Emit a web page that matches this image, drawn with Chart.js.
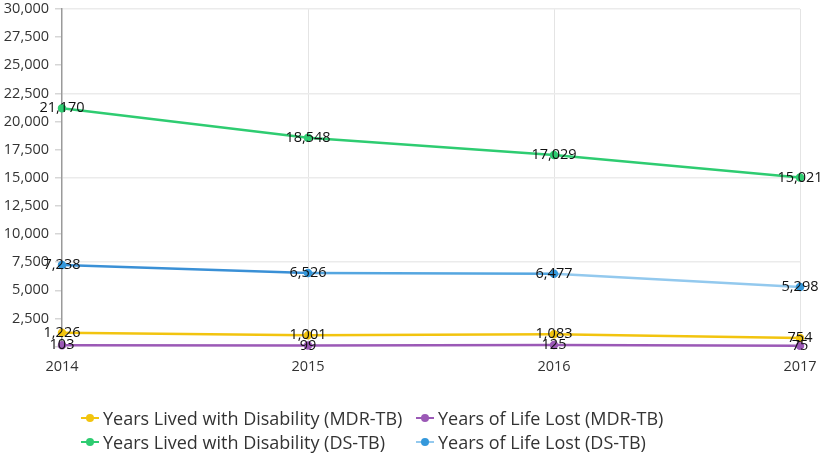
<!DOCTYPE html>
<html>
<head>
<meta charset="utf-8">
<script src="https://cdn.jsdelivr.net/npm/chart.js@4.4.1/dist/chart.umd.min.js"></script>
<style>
  html, body { margin: 0; padding: 0; background: #fff; }
  #wrap { position: relative; width: 829px; height: 457px; }
  #wrap canvas { position: absolute; left: 0; top: 0; }
  #legend {
    position: absolute; left: 81px; top: 406px;
    display: grid; grid-template-columns: 335px auto;
    font-family: "Open Sans", sans-serif; font-size: 18px; color: #333; line-height: 24px;
  }
  .item { display: flex; align-items: center; white-space: nowrap; }
  .mk { position: relative; width: 18px; height: 24px; margin-right: 4px; flex: none; }
  .mk .ln { position: absolute; left: 0; right: 0; top: 11px; height: 2px; }
  .mk .dt { position: absolute; left: 5px; top: 8px; width: 8px; height: 8px; border-radius: 50%; }
</style>
</head>
<body>
<div id="wrap">
  <canvas id="c" width="829" height="457"></canvas>
  <div id="legend"></div>
</div>
<script>
// data
const years = ["2014", "2015", "2016", "2017"];
const yldMdr = [1226, 1001, 1083, 754];
const yllMdr = [103, 99, 125, 75];
const yldDs = [21170, 18548, 17029, 15021];
const yllDs = [7238, 6526, 6477, 5298];
const seriesNames = [
  "Years Lived with Disability (MDR-TB)",
  "Years of Life Lost (MDR-TB)",
  "Years Lived with Disability (DS-TB)",
  "Years of Life Lost (DS-TB)"
];

const COLORS = {
  yellow: "#f2c40f",
  purple: "#9b59b6",
  green: "#2ecc71",
  blue: "#3498db",
  blueLight: "#93c9ee"
};
const BLUE_SEGMENTS = ["#3a90d6", "#55a6e0", COLORS.blueLight];
const FONT = "'Open Sans', sans-serif";

function fmt(v) {
  return v.toLocaleString("en-US");
}

function lineSet(label, data, color, extra) {
  return Object.assign({
    label,
    data,
    borderColor: color,
    backgroundColor: color,
    pointBackgroundColor: color,
    pointBorderColor: color,
    borderWidth: 2.5,
    pointRadius: 3,
    tension: 0,
    clip: false,
    fill: false
  }, extra || {});
}

// numbers printed on each point
const pointLabels = {
  id: "pointLabels",
  afterDatasetsDraw(chart) {
    const ctx = chart.ctx;
    ctx.save();
    ctx.font = `14.5px ${FONT}`;
    ctx.fillStyle = "#111";
    ctx.textAlign = "center";
    ctx.textBaseline = "middle";
    chart.data.datasets.forEach((ds, i) => {
      chart.getDatasetMeta(i).data.forEach((pt, j) => {
        ctx.fillText(fmt(ds.data[j]), pt.x, pt.y);
      });
    });
    ctx.restore();
  }
};

const chart = new Chart(document.getElementById("c"), {
  type: "line",
  data: {
    labels: years,
    datasets: [
      lineSet(seriesNames[0], yldMdr, COLORS.yellow),
      lineSet(seriesNames[1], yllMdr, COLORS.purple),
      lineSet(seriesNames[2], yldDs, COLORS.green),
      lineSet(seriesNames[3], yllDs, COLORS.blue, {
        segment: { borderColor: (c) => BLUE_SEGMENTS[c.p0DataIndex] }
      })
    ]
  },
  options: {
    responsive: false,
    animation: false,
    layout: { padding: { left: 0, right: 29, top: 0, bottom: 80.5 } },
    plugins: {
      legend: { display: false },
      tooltip: { enabled: false }
    },
    scales: {
      x: {
        offset: false,
        border: { display: false },
        grid: {
          drawTicks: false,
          color: (c) => (c.index === 0 ? "rgba(0,0,0,0)" : "#e4e4e4"),
          lineWidth: 1
        },
        ticks: { color: "#333", padding: 12, font: { family: FONT, size: 14.5 } },
        afterFit: (s) => { s.height = 30; }
      },
      y: {
        min: 0,
        max: 30000,
        border: { display: true, color: "#9a9a9a", width: 1.5 },
        grid: {
          color: (c) => (c.tick.value !== 0 && c.tick.value % 7500 === 0 ? "#ebebeb" : "rgba(0,0,0,0)"),
          lineWidth: 1.5,
          drawTicks: true,
          tickLength: 7,
          tickColor: "#d6d6d6"
        },
        ticks: {
          stepSize: 2500,
          color: "#333",
          padding: 6,
          font: { family: FONT, size: 14.5 },
          callback: (v) => (v === 0 ? "" : fmt(v))
        },
        afterFit: (s) => { s.width = 62; s.paddingTop = 9; }
      }
    }
  },
  plugins: [pointLabels]
});

// legend laid out in two aligned columns, as in the picture
const legendEl = document.getElementById("legend");
const legendLine = [COLORS.yellow, COLORS.purple, COLORS.green, COLORS.blueLight];
const legendDot = [COLORS.yellow, COLORS.purple, COLORS.green, COLORS.blue];
seriesNames.forEach((name, i) => {
  const item = document.createElement("div");
  item.className = "item";
  item.innerHTML =
    `<span class="mk"><span class="ln" style="background:${legendLine[i]}"></span>` +
    `<span class="dt" style="background:${legendDot[i]}"></span></span><span>${name}</span>`;
  legendEl.appendChild(item);
});
</script>
</body>
</html>
